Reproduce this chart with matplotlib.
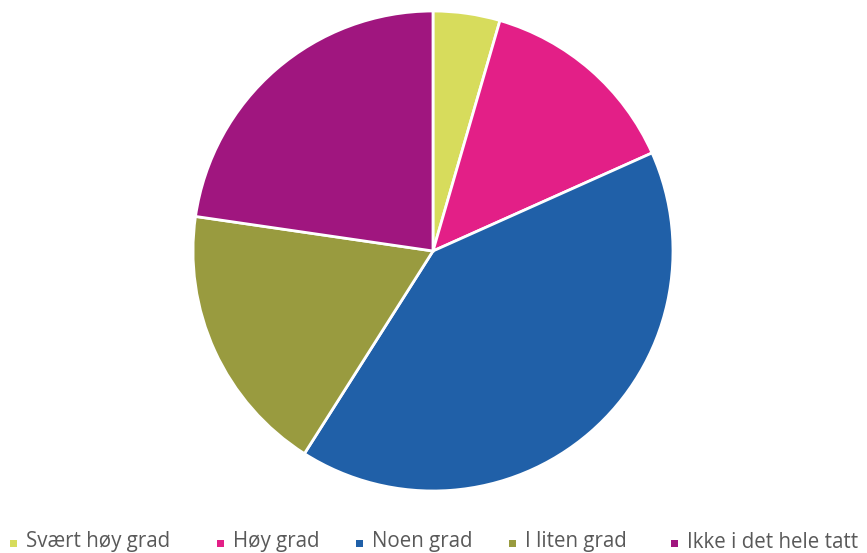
import matplotlib
matplotlib.use("Agg")
import matplotlib.pyplot as plt
from matplotlib.patches import Rectangle

categories = ["Svært høy grad", "Høy grad", "Noen grad", "I liten grad", "Ikke i det hele tatt"]
values = [4.5, 13.8, 40.7, 18.3, 22.7]
colors = ["#D7DC5C", "#E31F87", "#2060A8", "#999B3F", "#A0167F"]

plt.rcParams['font.family'] = ['Open Sans', 'DejaVu Sans']

W, H = 867, 553
fig = plt.figure(figsize=(W / 100, H / 100), dpi=100)
ax = fig.add_axes([(433 - 240) / W, (H - 491) / H, 480 / W, 480 / H])
ax.pie(values, colors=colors, startangle=90, counterclock=False,
       wedgeprops=dict(edgecolor="white", linewidth=2.0))
ax.set_aspect("equal")
ax.set_xlim(-1, 1)
ax.set_ylim(-1, 1)

# legend (manual layout, in pixels)
marker_x = [10, 217, 356, 509, 671]
for mx, c, lab in zip(marker_x, colors, categories):
    fig.patches.append(Rectangle((mx / W, (H - 547) / H), 7 / W, 7 / H,
                                 transform=fig.transFigure, facecolor=c,
                                 edgecolor="none"))
    fig.text((mx + 16) / W, (H - 547.5) / H, lab, fontsize=14.8, color="#595959",
             ha="left", va="baseline")

fig.savefig("out.png", dpi=100)
